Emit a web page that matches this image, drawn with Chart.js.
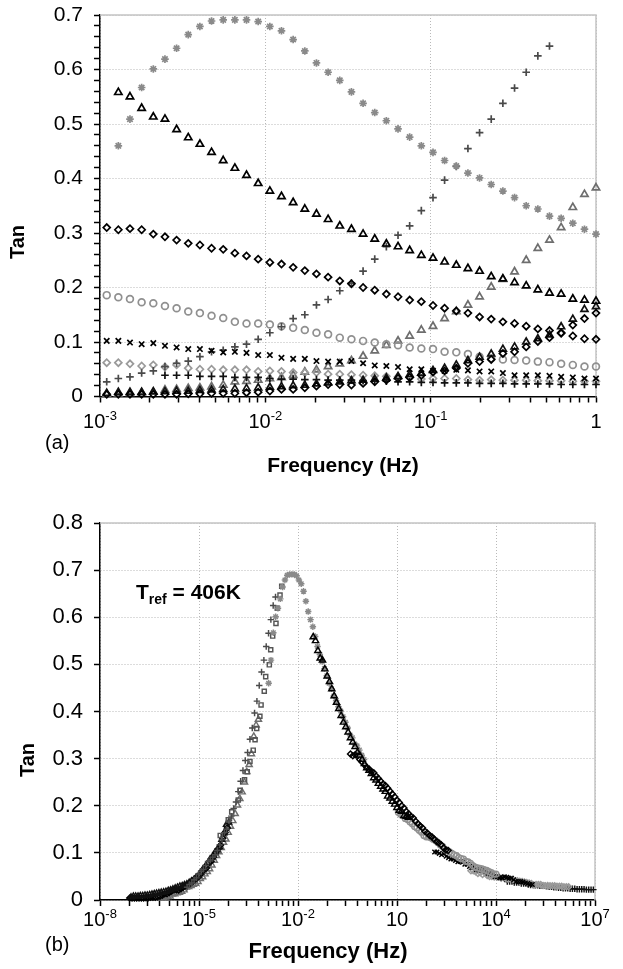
<!DOCTYPE html>
<html>
<head>
<meta charset="utf-8">
<script src="https://cdn.jsdelivr.net/npm/chart.js@4.4.1/dist/chart.umd.min.js"></script>
<style>
  html, body { margin: 0; padding: 0; background: #fff; }
  #wrap { position: relative; width: 623px; height: 969px; }
  canvas { position: absolute; left: 0; }
</style>
</head>
<body>
<div id="wrap">
  <canvas id="chartA" width="623" height="485" style="top:0"></canvas>
  <canvas id="chartB" width="623" height="484" style="top:485px"></canvas>
</div>
<script>
// frequencies of the isothermal sweeps (Hz), panel (a)
const freqA = [0.001098, 0.001291, 0.001518, 0.001786, 0.002101, 0.002471, 0.002906, 0.003418,
  0.004020, 0.004728, 0.005562, 0.006542, 0.007694, 0.009051, 0.01065, 0.01252, 0.01473, 0.01733,
  0.02038, 0.02397, 0.02820, 0.03317, 0.03901, 0.04589, 0.05395, 0.06347, 0.07464, 0.08780,
  0.1033, 0.1214, 0.1429, 0.1680, 0.1976, 0.2324, 0.2734, 0.3216, 0.3783, 0.4449, 0.5233,
  0.6154, 0.7240, 0.8516, 1.0];

// tan delta per temperature (one value per frequency above, null = not measured)
const tanStar = [null, 0.460, 0.509, 0.567, 0.601, 0.619, 0.639, 0.664, 0.679, 0.689, 0.691,
  0.691, 0.691, 0.688, 0.679, 0.671, 0.655, 0.634, 0.612, 0.595, 0.580, 0.559, 0.538, 0.521,
  0.506, 0.491, 0.476, 0.460, 0.448, 0.433, 0.423, 0.410, 0.401, 0.389, 0.377, 0.365, 0.350,
  0.344, 0.331, 0.327, 0.318, 0.307, 0.298];
const tanTriHi = [null, 0.558, 0.550, 0.529, 0.513, 0.509, 0.490, 0.475, 0.463, 0.448, 0.433,
  0.419, 0.406, 0.391, 0.377, 0.367, 0.356, 0.344, 0.335, 0.325, 0.313, 0.307, 0.298, 0.289,
  0.280, 0.275, 0.268, 0.259, 0.254, 0.247, 0.241, 0.235, 0.230, 0.220, 0.216, 0.209, 0.203,
  0.196, 0.190, 0.188, 0.179, 0.177, 0.175];
const tanPlusRise = [0.027, 0.033, 0.036, 0.043, 0.047, 0.055, 0.061, 0.065, 0.073, 0.082, 0.085,
  0.091, 0.096, 0.105, 0.117, 0.128, 0.143, 0.150, 0.168, 0.178, 0.194, 0.208, 0.230, 0.252,
  0.275, 0.296, 0.313, 0.341, 0.365, 0.397, 0.422, 0.455, 0.484, 0.509, 0.538, 0.566, 0.595,
  0.625, 0.643, null, null, null, null];
const tanDiaHi = [0.310, 0.306, 0.308, 0.306, 0.298, 0.293, 0.287, 0.281, 0.278, 0.272, 0.270,
  0.263, 0.258, 0.252, 0.246, 0.243, 0.237, 0.231, 0.225, 0.219, 0.212, 0.207, 0.200, 0.195,
  0.188, 0.183, 0.177, 0.174, 0.167, 0.162, 0.157, 0.153, 0.146, 0.142, 0.137, 0.134, 0.129,
  0.124, 0.121, 0.117, 0.111, 0.106, 0.105];
const tanCircle = [0.186, 0.182, 0.179, 0.173, 0.171, 0.166, 0.162, 0.156, 0.153, 0.148, 0.144,
  0.137, 0.134, 0.134, 0.132, 0.129, 0.126, 0.122, 0.117, 0.114, 0.108, 0.105, 0.102, 0.099,
  0.096, 0.094, 0.090, 0.088, 0.087, 0.082, 0.081, 0.078, 0.073, 0.070, 0.068, 0.067, 0.066,
  0.064, 0.063, 0.060, 0.058, 0.055, 0.055];
const tanCross = [0.102, 0.102, 0.099, 0.096, 0.098, 0.093, 0.090, 0.087, 0.087, 0.084, 0.081,
  0.082, 0.080, 0.076, 0.076, 0.071, 0.069, 0.069, 0.065, 0.064, 0.064, 0.065, 0.061, 0.057,
  0.056, 0.054, 0.050, 0.050, 0.047, 0.047, 0.049, 0.048, 0.046, 0.046, 0.043, 0.039, 0.039,
  0.039, 0.038, 0.036, 0.035, 0.033, 0.033];
const tanDiaGray = [0.062, 0.062, 0.060, 0.056, 0.058, 0.054, 0.058, 0.052, 0.050, 0.050, 0.049,
  0.049, 0.049, 0.046, 0.047, 0.046, 0.044, 0.044, 0.044, 0.041, 0.041, 0.040, 0.039, 0.038,
  0.037, 0.036, 0.035, 0.032, 0.033, 0.033, 0.033, 0.031, 0.030, 0.031, 0.030, 0.030, 0.030,
  0.029, 0.029, 0.029, 0.028, 0.028, 0.028];
const tanPlusBlack = [null, null, null, null, null, 0.039, 0.039, 0.039, 0.037, 0.037, 0.037,
  0.035, 0.035, 0.035, 0.033, 0.032, 0.032, 0.031, 0.031, 0.030, 0.030, 0.030, 0.029, 0.028,
  0.028, 0.027, 0.027, 0.026, 0.026, 0.025, 0.025, 0.025, 0.024, 0.024, 0.024, 0.023, 0.023,
  0.023, 0.023, 0.022, 0.022, 0.022, 0.022];
const tanTriGray = [0.004, 0.005, 0.006, 0.007, 0.008, 0.012, 0.013, 0.015, 0.016, 0.018, 0.021,
  0.027, 0.028, 0.030, 0.033, 0.035, 0.039, 0.045, 0.049, 0.055, 0.060, 0.066, 0.074, 0.084,
  0.094, 0.102, 0.111, 0.122, 0.129, 0.143, 0.156, 0.168, 0.183, 0.201, 0.215, 0.229, 0.250,
  0.272, 0.287, 0.310, 0.347, 0.371, 0.383];
const tanDiaLow = [0.004, 0.004, 0.004, 0.004, 0.004, 0.004, 0.004, 0.005, 0.005, 0.006, 0.006,
  0.006, 0.007, 0.008, 0.010, 0.013, 0.013, 0.016, 0.019, 0.022, 0.022, 0.021, 0.024, 0.027,
  0.030, 0.033, 0.035, 0.039, 0.045, 0.047, 0.052, 0.061, 0.064, 0.068, 0.079, 0.082, 0.091,
  0.101, 0.108, 0.116, 0.131, 0.143, 0.153];
const tanTriLow = [0.006, 0.008, 0.008, 0.008, 0.009, 0.009, 0.010, 0.010, 0.011, 0.012, 0.013,
  0.014, 0.015, 0.016, 0.017, 0.018, 0.020, 0.021, 0.023, 0.025, 0.027, 0.029, 0.030, 0.032,
  0.034, 0.037, 0.040, 0.043, 0.048, 0.052, 0.058, 0.066, 0.072, 0.078, 0.087, 0.091, 0.100,
  0.106, 0.113, 0.128, 0.142, 0.160, 0.165];

// extra isotherm only shown in the master curve (b)
const freqSquare = [3.21e-3, 2.85e-3, 2.36e-3, 2.15e-3, 1.71e-3, 1.49e-3, 1.35e-3, 1.05e-3, 9.5e-4,
  7.6e-4, 7.0e-4, 5.6e-4, 5.0e-4, 4.4e-4, 3.5e-4, 2.9e-4, 2.4e-4, 1.75e-4, 1.55e-4, 9.8e-5, 7.7e-5, 4.4e-5];
const tanSquare = [0.666, 0.647, 0.619, 0.587, 0.560, 0.531, 0.499, 0.474, 0.443, 0.414, 0.390,
  0.364, 0.340, 0.318, 0.294, 0.272, 0.255, 0.233, 0.212, 0.187, 0.170, 0.137];

// horizontal shift factors log10(aT) used for the master curve at Tref = 406 K
const seriesKeys = ['triHi', 'star', 'plusRise', 'diaHi', 'circle', 'cross', 'diaGray', 'plusBlack', 'triLow', 'diaLow', 'triGray'];
const logShift   = [1.35, 0.0, -2.4, 2.55, 4.0, 5.1, 6.2, 6.95, -4.1, -4.14, -3.2];

const tickExpA = [-3, -2, -1, 0];
const tickExpB = [-8, -5, -2, 1, 4, 7];

const values = {
  star: tanStar, triHi: tanTriHi, plusRise: tanPlusRise, diaHi: tanDiaHi, circle: tanCircle,
  cross: tanCross, diaGray: tanDiaGray, plusBlack: tanPlusBlack, triGray: tanTriGray,
  diaLow: tanDiaLow, triLow: tanTriLow
};

const markers = {
  star:      { style: 'star',     color: '#8a8a8a', r: 3.8 },
  triHi:     { style: 'triangle', color: '#000000', r: 4.2 },
  plusRise:  { style: 'cross',    color: '#4a4a4a', r: 3.8 },
  diaHi:     { style: 'rectRot',  color: '#000000', r: 3.5 },
  circle:    { style: 'circle',   color: '#909090', r: 3.4 },
  cross:     { style: 'crossRot', color: '#000000', r: 3.8 },
  diaGray:   { style: 'rectRot',  color: '#9a9a9a', r: 3.5 },
  plusBlack: { style: 'cross',    color: '#111111', r: 3.8 },
  triGray:   { style: 'triangle', color: '#6e6e6e', r: 4.2 },
  diaLow:    { style: 'rectRot',  color: '#000000', r: 3.5 },
  triLow:    { style: 'triangle', color: '#111111', r: 4.0 },
  square:    { style: 'rect',     color: '#555555', r: 3.4 }
};

Chart.defaults.font.family = '"Liberation Sans", Arial, sans-serif';
Chart.defaults.color = '#000';

const FONT = '"Liberation Sans", Arial, sans-serif';

function isDecade(v) {
  const l = Math.log10(v);
  return Math.abs(l - Math.round(l)) < 1e-6;
}

function ds(key, points, scale) {
  const m = markers[key];
  return {
    label: key,
    data: points,
    pointStyle: m.style,
    pointRadius: m.r * scale,
    pointBorderWidth: 1.7 * scale,
    pointBorderColor: m.color,
    pointBackgroundColor: 'rgba(255,255,255,0)',
    showLine: false,
    clip: false
  };
}

function pointsFor(key, shift) {
  const f = Math.pow(10, shift);
  const out = [];
  values[key].forEach((v, k) => { if (v !== null) out.push({ x: freqA[k] * f, y: v }); });
  return out;
}

function drawPow(ctx, x, y, exp) {
  const base = exp === 0 ? '1' : '10';
  const sup = (exp === 0 || exp === 1) ? '' : String(exp);
  ctx.font = '20px ' + FONT;
  const wb = ctx.measureText(base).width;
  ctx.font = '13px ' + FONT;
  const ws = sup ? ctx.measureText(sup).width : 0;
  const x0 = x - (wb + ws) / 2;
  ctx.font = '20px ' + FONT;
  ctx.fillText(base, x0, y);
  if (sup) {
    ctx.font = '13px ' + FONT;
    ctx.fillText(sup, x0 + wb, y - 8);
  }
}

const frame = {
  id: 'frame',
  beforeDatasetsDraw(chart) {
    const { ctx, chartArea: a } = chart;
    ctx.save();
    ctx.strokeStyle = '#c4c4c4';
    ctx.lineWidth = 1.5;
    ctx.beginPath();
    ctx.moveTo(a.left, a.top);
    ctx.lineTo(a.right, a.top);
    ctx.lineTo(a.right, a.bottom);
    ctx.stroke();
    ctx.restore();
  }
};

function gridColor(c) {
  return c.tick && isDecade(c.tick.value) ? '#b9b9b9' : 'rgba(0,0,0,0)';
}

function fitY(scale) {
  scale.width = 100;
  scale.paddingTop = 0;
  scale.paddingBottom = 0;
}

// ---------- panel (a)
const orderA = ['triHi', 'diaHi', 'cross', 'diaLow', 'triLow', 'plusBlack', 'star', 'plusRise', 'circle', 'diaGray', 'triGray'];

const labelsA = {
  id: 'labelsA',
  afterDraw(chart) {
    const ctx = chart.ctx;
    const x = chart.scales.x;
    ctx.save();
    ctx.fillStyle = '#000';
    ctx.textAlign = 'left';
    ctx.textBaseline = 'alphabetic';
    tickExpA.forEach(e => drawPow(ctx, x.getPixelForValue(Math.pow(10, e)), 428, e));
    ctx.font = '20px ' + FONT;
    ctx.fillText('(a)', 45, 449);
    ctx.font = 'bold 21px ' + FONT;
    ctx.textAlign = 'center';
    ctx.fillText('Frequency (Hz)', 343, 472);
    ctx.translate(18, 242);
    ctx.rotate(-Math.PI / 2);
    ctx.font = 'bold 20px ' + FONT;
    ctx.textBaseline = 'middle';
    ctx.fillText('Tan', 0, 0);
    ctx.restore();
  }
};

new Chart(document.getElementById('chartA'), {
  type: 'scatter',
  data: { datasets: orderA.map(k => ds(k, pointsFor(k, 0), 1)) },
  options: {
    responsive: false,
    animation: false,
    layout: { padding: { top: 15, right: 27, left: 0, bottom: 0 } },
    plugins: { legend: { display: false }, tooltip: { enabled: false } },
    scales: {
      x: {
        type: 'logarithmic',
        min: 0.001,
        max: 1,
        afterBuildTicks(scale) {
          const t = [];
          for (let e = -3; e < 0; e++) {
            for (let m = 1; m <= 9; m++) t.push({ value: m * Math.pow(10, e) });
          }
          t.push({ value: 1 });
          scale.ticks = t;
        },
        afterFit(scale) { scale.height = 88.5; },
        ticks: { display: false, autoSkip: false },
        grid: { color: gridColor, lineWidth: 1, tickColor: '#000', tickLength: 6, tickWidth: 1.5 },
        border: { color: '#000', width: 1.5, dash: [1, 2] }
      },
      y: {
        min: 0,
        max: 0.7,
        afterBuildTicks(scale) {
          const t = [];
          for (let i = 0; i <= 35; i++) t.push({ value: Math.round(i * 2) / 100 });
          scale.ticks = t;
        },
        afterFit: fitY,
        ticks: {
          autoSkip: false,
          padding: 11,
          font: { size: 21 },
          color: '#000',
          callback: v => (Math.abs(v * 10 - Math.round(v * 10)) < 1e-6 ? String(Math.round(v * 10) / 10) : '')
        },
        grid: {
          color: c => (c.tick && Math.abs(c.tick.value * 10 - Math.round(c.tick.value * 10)) < 1e-6 ? '#b9b9b9' : 'rgba(0,0,0,0)'),
          tickColor: '#000', tickLength: 6, tickWidth: 1.5
        },
        border: { color: '#000', width: 1.5, dash: [1, 2] }
      }
    }
  },
  plugins: [frame, labelsA]
});

// ---------- panel (b) master curve
const labelsB = {
  id: 'labelsB',
  afterDraw(chart) {
    const ctx = chart.ctx;
    const x = chart.scales.x;
    ctx.save();
    ctx.fillStyle = '#000';
    ctx.textAlign = 'left';
    ctx.textBaseline = 'alphabetic';
    tickExpB.forEach(e => drawPow(ctx, x.getPixelForValue(Math.pow(10, e)), 441, e));
    ctx.font = '20px ' + FONT;
    ctx.fillText('(b)', 45, 466);
    ctx.font = 'bold 22px ' + FONT;
    ctx.textAlign = 'center';
    ctx.fillText('Frequency (Hz)', 328, 473);
    // Tref label
    ctx.textAlign = 'left';
    ctx.font = 'bold 21px ' + FONT;
    ctx.fillText('T', 136, 114);
    const wT = ctx.measureText('T').width;
    ctx.font = 'bold 14px ' + FONT;
    ctx.fillText('ref', 136 + wT, 119);
    const wr = ctx.measureText('ref').width;
    ctx.font = 'bold 21px ' + FONT;
    ctx.fillText(' = 406K', 136 + wT + wr, 114);
    ctx.translate(28, 275);
    ctx.rotate(-Math.PI / 2);
    ctx.font = 'bold 20px ' + FONT;
    ctx.textAlign = 'center';
    ctx.textBaseline = 'middle';
    ctx.fillText('Tan', 0, 0);
    ctx.restore();
  }
};

const squarePts = freqSquare.map((f, i) => ({ x: f, y: tanSquare[i] }));
const datasetsB = [];
seriesKeys.forEach((k, i) => {
  datasetsB.push(ds(k, pointsFor(k, logShift[i]), 0.85));
  if (k === 'star') datasetsB.push(ds('square', squarePts, 0.85));
});

new Chart(document.getElementById('chartB'), {
  type: 'scatter',
  data: { datasets: datasetsB },
  options: {
    responsive: false,
    animation: false,
    layout: { padding: { top: 38, right: 28, left: 0, bottom: 0 } },
    plugins: { legend: { display: false }, tooltip: { enabled: false } },
    scales: {
      x: {
        type: 'logarithmic',
        min: 1e-8,
        max: 1e7,
        afterBuildTicks(scale) {
          const t = [];
          for (let e = -8; e < 7; e += 3) {
            for (let m = 1; m <= 9; m++) t.push({ value: Math.pow(10, e) * m * m * m });
          }
          t.push({ value: 1e7 });
          scale.ticks = t;
        },
        afterFit(scale) { scale.height = 69; },
        ticks: { display: false, autoSkip: false },
        grid: {
          color: c => (c.tick && tickExpB.some(e => Math.abs(Math.log10(c.tick.value) - e) < 1e-6) ? '#b9b9b9' : 'rgba(0,0,0,0)'),
          lineWidth: 1, tickColor: '#000', tickLength: 6, tickWidth: 1.5
        },
        border: { color: '#000', width: 1.5, dash: [1, 2] }
      },
      y: {
        min: 0,
        max: 0.8,
        ticks: { stepSize: 0.1, autoSkip: false, padding: 11, font: { size: 22 }, color: '#000' },
        afterFit: fitY,
        grid: { color: '#b9b9b9', tickColor: '#000', tickLength: 6, tickWidth: 1.5 },
        border: { color: '#000', width: 1.5, dash: [1, 2] }
      }
    }
  },
  plugins: [frame, labelsB]
});
</script>
</body>
</html>
